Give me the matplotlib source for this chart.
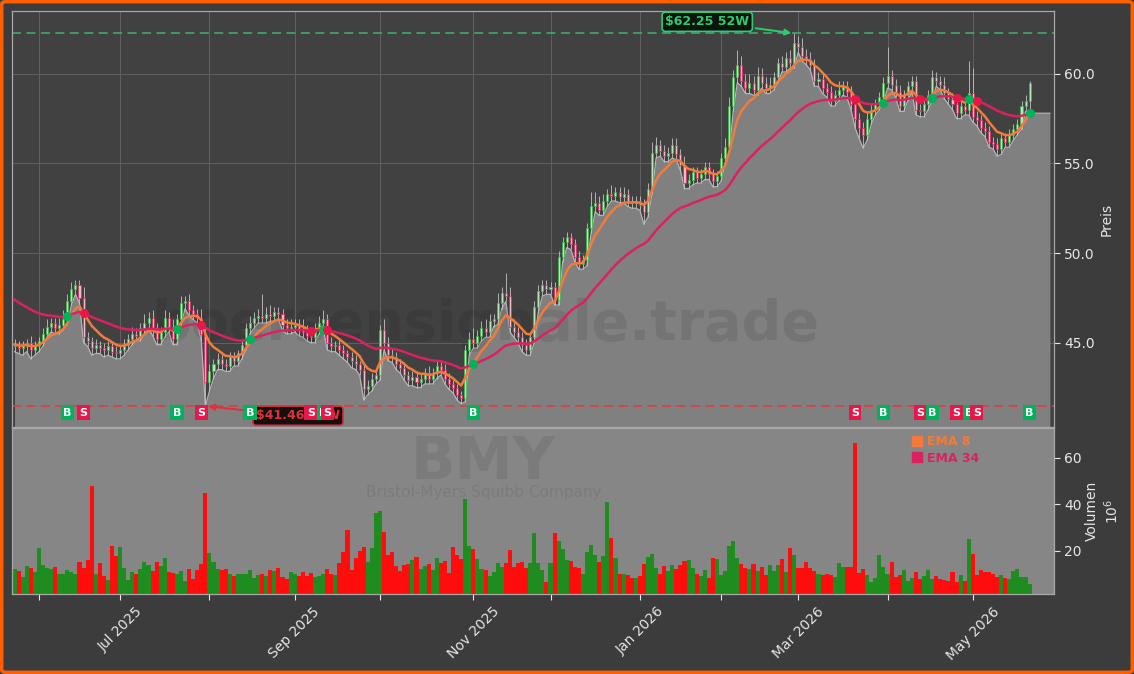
import numpy as np
import pandas as pd
import matplotlib
matplotlib.use('Agg')
import matplotlib.pyplot as plt
from matplotlib.lines import Line2D
from matplotlib.patches import FancyBboxPatch

# trading days (US market holidays removed)
holidays = ['2025-05-26', '2025-06-19', '2025-07-04', '2025-09-01', '2025-11-27',
            '2025-12-25', '2026-01-01', '2026-01-19', '2026-02-16', '2026-04-03']
dates = pd.bdate_range('2025-05-22', '2026-05-21')
dates = dates[~dates.isin(pd.to_datetime(holidays))]

# daily closes
closes = [
    44.9, 44.7, 44.8, 45.0, 44.6, 44.8, 45.1,
    45.5, 45.9, 46.1, 45.8, 46.0, 46.3,
    47.3, 48.0, 48.2, 47.5,
    45.3, 45.1, 44.7,
    44.9, 44.7, 44.6, 44.8, 44.5, 44.4, 44.6,
    44.9, 45.2, 45.5, 45.4, 45.8, 46.1, 46.4,
    45.8, 45.2, 45.6, 46.4, 45.9, 45.2,
    46.3, 47.2, 47.3, 46.8, 46.6, 46.4,
    45.5, 42.8, 43.4,
    43.8, 44.1, 43.8, 43.7, 44.2, 44.0, 44.4,
    44.9, 45.8, 46.1, 46.4, 46.5,
    46.4, 46.6, 46.5, 46.7, 46.6, 46.0,
    45.8, 45.9, 46.0, 45.7, 45.6, 45.4,
    45.3, 45.8, 46.1, 46.3, 45.0,
    44.8, 44.9, 44.6, 44.4, 44.2, 44.0, 43.8, 43.5,
    42.4, 42.6, 43.0, 43.2,
    45.7, 45.0, 44.3, 44.2, 43.8, 43.6,
    43.2, 42.9, 43.1, 42.8, 43.0, 43.3, 43.0,
    43.3, 43.7, 43.5, 43.0, 42.7,
    42.5, 42.1, 41.9,
    44.6, 45.2, 45.0, 45.4, 45.8, 45.6, 46.2, 46.3,
    47.2, 47.8, 47.6, 45.9, 45.6, 45.3, 44.9, 44.6, 45.3,
    47.0, 47.9, 48.2, 48.0, 48.1, 47.4,
    49.8, 50.6, 50.9, 50.5, 49.8, 49.4, 49.6,
    51.4, 52.6, 52.8, 52.4, 52.9, 53.3, 53.2, 53.4, 53.1, 53.3, 52.9, 52.8, 52.9, 52.7, 52.3, 53.6,
    55.6, 56.0, 55.7, 55.4, 55.6, 56.0, 55.5, 54.9, 53.9, 54.1, 54.5, 54.2, 54.4,
    54.8, 54.4, 54.0, 54.3, 55.3, 55.9,
    58.2, 59.8, 60.5, 59.6, 59.2, 59.5, 59.1, 59.9, 59.5, 59.2, 59.4, 59.8, 60.6, 60.4, 60.9,
    60.6, 61.7, 61.5, 61.0, 60.8, 60.5,
    59.6, 59.7, 59.2, 59.0, 58.5, 58.8, 59.1, 59.3, 59.0, 58.3, 57.5, 57.0, 56.6, 57.5, 58.0,
    58.3, 58.7,
    59.5, 59.9, 59.4, 59.0, 58.2, 58.8, 59.3, 59.6, 58.0, 57.9, 58.3, 58.8, 59.8, 59.6, 59.4,
    58.9, 58.6, 58.3, 57.8, 58.2, 58.0, 58.9,
    57.6, 57.4, 57.0, 56.8, 56.2, 56.1, 55.8, 56.4, 56.2, 56.6, 56.9, 57.2, 58.2, 58.5, 59.5,
]
first_open = 44.8

hi_wick = [
    0.3, 0.2, 0.3, 0.2, 0.4, 0.3, 0.2, 0.3, 0.4, 0.3,
    0.3, 0.4, 0.5, 0.4, 0.4, 0.3, 0.3, 0.6, 0.3, 0.2,
    0.3, 0.2, 0.3, 0.3, 0.2, 0.3, 0.2, 0.3, 0.3, 0.4,
    0.3, 0.3, 0.5, 0.3, 0.4, 0.3, 0.3, 0.4, 0.3, 0.4,
    0.3, 0.4, 0.3, 0.4, 0.3, 0.3, 0.5, 0.4, 0.4, 0.3,
    0.3, 0.4, 0.3, 0.3, 0.3, 0.2, 0.3, 0.3, 0.4, 0.3,
    0.4, 1.2, 0.4, 0.5, 0.3, 0.3, 0.3, 0.3, 0.4, 0.3,
    0.3, 0.6, 0.4, 0.3, 0.3, 0.4, 0.5, 0.3, 0.3, 0.2,
    0.3, 0.3, 0.2, 0.3, 0.3, 0.2, 0.3, 0.3, 0.3, 0.3,
    0.3, 0.6, 0.3, 0.4, 0.3, 0.3, 0.3, 0.2, 0.3, 0.3,
    0.3, 0.3, 0.4, 0.3, 0.3, 0.3, 0.3, 0.3, 0.2, 0.2,
    0.2, 0.3, 0.4, 0.6, 0.3, 0.4, 0.5, 0.4, 0.3, 0.6,
    0.3, 1.1, 0.5, 0.4, 0.3, 0.3, 0.3, 0.3, 0.3, 0.3,
    0.3, 0.3, 0.3, 0.3, 0.3, 0.3, 0.3, 0.2, 0.3, 0.3,
    0.3, 0.3, 0.8, 0.6, 0.4, 0.4, 0.3, 0.5, 0.3, 0.3,
    0.4, 0.3, 0.3, 0.3, 0.3, 0.3, 0.3, 0.6, 0.5, 0.3,
    0.3, 0.3, 0.4, 0.4, 0.3, 0.5, 0.3, 0.3, 0.3, 0.3,
    0.3, 0.3, 0.3, 0.3, 0.3, 0.5, 0.5, 0.4, 0.8, 0.5,
    0.4, 0.5, 0.4, 0.5, 0.4, 0.3, 0.4, 0.3, 0.3, 0.4,
    0.3, 0.4, 0.55, 0.4, 0.5, 0.4, 0.4, 0.3, 0.4, 0.3,
    0.3, 0.3, 0.3, 0.5, 0.3, 0.3, 0.3, 0.4, 0.3, 0.3,
    0.3, 0.3, 0.3, 0.3, 0.3, 1.6, 0.3, 0.3, 0.4, 0.3,
    0.3, 0.3, 0.3, 0.3, 0.3, 0.3, 0.4, 0.3, 0.3, 0.4,
    0.3, 0.3, 0.3, 0.3, 0.3, 1.8, 1.4, 0.3, 0.3, 0.3,
    0.3, 0.3, 0.3, 0.3, 0.3, 0.3, 0.3, 0.3, 0.3, 0.3,
    0.1,
]
lo_wick = [
    0.3, 0.3, 0.4, 0.3, 0.5, 0.3, 0.3, 0.3, 0.2, 0.3,
    0.3, 0.3, 0.3, 0.3, 0.2, 0.3, 0.3, 0.3, 0.3, 0.4,
    0.3, 0.3, 0.4, 0.3, 0.3, 0.3, 0.3, 0.3, 0.3, 0.3,
    0.3, 0.3, 0.3, 0.3, 0.4, 0.3, 0.3, 0.3, 0.3, 0.3,
    0.3, 0.3, 0.3, 0.3, 0.3, 0.3, 0.4, 1.34, 0.5, 0.4,
    0.3, 0.3, 0.3, 0.3, 0.3, 0.3, 0.3, 0.3, 0.3, 0.3,
    0.3, 0.3, 0.3, 0.3, 0.3, 0.3, 0.3, 0.3, 0.3, 0.3,
    0.3, 0.3, 0.3, 0.3, 0.3, 0.3, 0.3, 0.4, 0.3, 0.3,
    0.3, 0.3, 0.3, 0.4, 0.3, 0.3, 0.6, 0.3, 0.3, 0.3,
    0.3, 0.4, 0.3, 0.3, 0.3, 0.3, 0.3, 0.3, 0.3, 0.3,
    0.3, 0.3, 0.3, 0.3, 0.3, 0.3, 0.3, 0.3, 0.3, 0.3,
    0.3, 0.2, 0.3, 0.3, 0.3, 0.3, 0.3, 0.3, 0.3, 0.3,
    0.3, 0.3, 0.3, 0.3, 0.3, 0.4, 0.3, 0.3, 0.3, 0.3,
    0.3, 0.3, 0.3, 0.3, 0.3, 0.3, 0.3, 0.3, 0.3, 0.3,
    0.3, 0.3, 0.3, 0.3, 0.3, 0.3, 0.3, 0.3, 0.3, 0.3,
    0.3, 0.3, 0.3, 0.3, 0.3, 0.7, 0.3, 0.3, 0.3, 0.3,
    0.3, 0.3, 0.3, 0.3, 0.3, 0.3, 0.3, 0.3, 0.3, 0.3,
    0.3, 0.3, 0.3, 0.3, 0.3, 0.3, 0.3, 0.3, 0.3, 0.3,
    0.3, 0.3, 0.3, 0.3, 0.3, 0.3, 0.3, 0.3, 0.3, 0.3,
    0.3, 0.3, 0.3, 0.3, 0.3, 0.3, 0.3, 0.3, 0.3, 0.3,
    0.3, 0.3, 0.3, 0.3, 0.3, 0.3, 0.3, 0.5, 0.6, 0.75,
    0.3, 0.3, 0.3, 0.3, 0.3, 0.3, 0.3, 0.3, 0.3, 0.3,
    0.3, 0.3, 0.3, 0.3, 0.3, 0.3, 0.3, 0.3, 0.3, 0.3,
    0.3, 0.3, 0.3, 0.3, 0.3, 0.3, 0.3, 0.3, 0.3, 0.3,
    0.3, 0.3, 0.4, 0.3, 0.3, 0.3, 0.3, 0.3, 0.3, 0.3,
    0.7,
]

# volume in millions
volume = [
    12.1, 11.3, 8.8, 13.5, 12.7, 11.0, 21.3, 13.8, 12.7, 12.0,
    13.1, 9.8, 10.2, 11.7, 11.0, 10.2, 15.3, 12.7, 16.0, 47.8,
    10.0, 14.8, 9.2, 7.5, 22.1, 17.8, 21.7, 12.7, 7.4, 10.8,
    10.0, 12.1, 15.1, 14.0, 11.4, 15.3, 13.4, 16.8, 10.8, 10.5,
    10.0, 11.3, 7.1, 12.3, 7.8, 11.7, 14.3, 44.9, 18.9, 15.1,
    12.1, 11.7, 12.0, 10.2, 9.2, 10.2, 10.2, 9.8, 11.7, 8.4,
    9.5, 10.0, 9.1, 11.7, 11.3, 12.5, 8.8, 8.0, 10.7, 10.0,
    9.0, 10.8, 9.1, 10.4, 8.7, 9.1, 10.0, 12.3, 10.0, 9.4,
    14.8, 19.6, 28.9, 11.7, 17.0, 19.9, 21.7, 15.3, 21.3, 36.3,
    37.1, 28.0, 18.1, 19.4, 13.4, 11.3, 14.0, 14.3, 16.0, 17.3,
    12.1, 13.4, 14.3, 11.7, 16.8, 14.8, 15.5, 10.5, 21.7, 18.3,
    16.4, 42.2, 22.0, 20.7, 16.4, 12.1, 11.7, 9.1, 10.7, 14.6,
    13.1, 14.8, 20.3, 13.1, 14.8, 15.1, 12.4, 14.6, 27.6, 14.8,
    11.7, 6.4, 14.6, 27.5,
    24.0, 20.7, 16.0, 15.6, 13.1, 12.7, 10.0, 19.3, 22.4, 18.1,
    15.3, 17.7, 41.1, 25.3, 16.8, 10.2, 10.0, 9.5, 8.1, 8.1,
    9.1, 14.3, 17.4, 18.4, 12.4, 10.0, 13.4, 11.3, 13.8, 12.0,
    14.0, 15.4, 16.0, 12.4, 10.0, 9.1, 11.7, 8.1, 16.8, 16.4,
    9.5, 11.3, 22.0, 24.2, 17.1, 14.3, 12.4, 12.0, 14.3, 11.3,
    13.1, 9.5, 13.8, 11.3, 13.8, 16.6, 11.0, 21.1, 18.1, 12.7,
    12.7, 15.1, 12.4, 11.3, 10.0, 9.5, 10.2, 9.5, 8.8, 14.6,
    13.1, 13.1, 13.1, 66.4, 10.5, 12.1, 9.7, 6.7, 8.4, 18.1,
    13.1, 10.2, 15.0, 8.5, 9.4, 11.7, 7.1, 8.2, 10.7, 7.9,
    9.2, 11.7, 7.9, 9.2, 7.8, 7.4, 7.1, 10.8, 6.5, 9.5,
    7.0, 25.0, 18.6, 9.5, 11.7, 10.8, 10.8, 10.2, 8.8, 9.5,
    8.4, 7.9, 11.3, 12.1, 8.8, 8.8, 5.7,
]

ema8_start = 44.9
ema34_start = 47.4
buy_idx = [13, 40, 58, 76, 113, 214, 226, 235, 250]
sell_idx = [17, 46, 73, 77, 207, 223, 232, 237]
high_52w, high_52w_idx = 62.25, 192
low_52w, low_52w_idx = 41.46, 47

ticker = 'BMY'
company = 'Bristol-Myers Squibb Company'
watermark = 'boersensignale.trade'

# colours
bg = '#3c3c3c'
ax_bg = '#414141'
fill_c = '#808080'
ema8_c = '#f47a3a'
ema34_c = '#dc2160'
buy_c = '#00b35a'
sell_c = '#e8174a'
txt_c = '#e6e6e6'

n = len(closes)
x = np.arange(n)
close = np.array(closes)
opens = np.concatenate([[first_open], close[:-1]])
high = np.maximum(opens, close) + np.array(hi_wick)
low = np.minimum(opens, close) - np.array(lo_wick)
up = close >= opens


def ema(values, start, span):
    a = 2.0 / (span + 1)
    out = [start]
    for v in values[1:]:
        out.append(out[-1] + a * (v - out[-1]))
    return np.array(out)


ema8 = ema(close, ema8_start, 8)
ema34 = ema(close, ema34_start, 34)

fig = plt.figure(figsize=(11.34, 6.74), dpi=100, facecolor=bg)
ax1 = fig.add_axes([0.01102, 0.36647, 0.91843, 0.61721], facecolor=ax_bg)
ax2 = fig.add_axes([0.01102, 0.11869, 0.91843, 0.24629], facecolor='#868686', sharex=ax1)

ymin, ymax = 40.3, 63.5

# price panel
ax1.set_axisbelow(True)
ax1.grid(True, color='#606060', lw=0.7)
x_fill = np.append(x, n + 4)
low_fill = np.append(low, low[-1])
ax1.fill_between(x_fill, low_fill, ymin, color=fill_c, zorder=1, lw=0)
ax1.plot(x_fill, low_fill, color='#b4b4b4', lw=0.9, zorder=1.5)

ax1.text(0.454, 0.245, watermark, transform=ax1.transAxes, fontsize=40, fontweight='bold',
         color='black', alpha=0.09, ha='center', va='center', zorder=1.8)

ax1.vlines(x, low, high, color='#c4c4c4', lw=0.6, zorder=2)
body = np.maximum(np.abs(close - opens), 0.06)
ax1.bar(x[up], body[up], bottom=np.minimum(opens, close)[up], width=0.5,
        color='#b4e8b4', edgecolor='#3cb44b', lw=0.5, zorder=3)
ax1.bar(x[~up], body[~up], bottom=np.minimum(opens, close)[~up], width=0.5,
        color='#f7b8c6', edgecolor='#e0245e', lw=0.5, zorder=3)

ax1.plot(x, ema8, color=ema8_c, lw=1.8, zorder=4)
ax1.plot(x, ema34, color=ema34_c, lw=1.8, zorder=4)
ax1.plot(buy_idx, ema34[buy_idx], 'o', color=buy_c, ms=5.5, zorder=5)
ax1.plot(sell_idx, ema34[sell_idx], 'o', color=sell_c, ms=5.5, zorder=5)

ax1.axhline(high_52w, color='#3cb371', lw=1.3, ls=(0, (5, 3)), alpha=0.85, zorder=2)
ax1.axhline(low_52w, color='#e03c3c', lw=1.3, ls=(0, (5, 3)), alpha=0.9, zorder=2)

ax1.annotate(r'\$62.25 52W', xy=(high_52w_idx, high_52w), xytext=(170.6, 62.9),
             color='#2ecc71', fontsize=9, fontweight='bold', ha='center', va='center',
             bbox=dict(boxstyle='round,pad=0.25', fc='#0c140e', ec='#2ecc71', lw=1.2),
             arrowprops=dict(arrowstyle='-|>', color='#2ecc71', lw=1.4), zorder=6)
ax1.annotate(r'\$41.46 52W', xy=(low_52w_idx, low_52w), xytext=(69.8, 40.93),
             color='#e0303a', fontsize=9, fontweight='bold', ha='center', va='center',
             bbox=dict(boxstyle='round,pad=0.25', fc='#151010', ec='#e0303a', lw=1.2),
             arrowprops=dict(arrowstyle='-|>', color='#e0303a', lw=1.4), zorder=6)

lab_y = 41.1
for i in buy_idx:
    ax1.text(i, lab_y, 'B', color='white', fontsize=8, fontweight='bold', ha='center', va='center',
             bbox=dict(boxstyle='square,pad=0.22', fc=buy_c, ec='none'), zorder=7)
for i in sell_idx:
    ax1.text(i, lab_y, 'S', color='white', fontsize=8, fontweight='bold', ha='center', va='center',
             bbox=dict(boxstyle='square,pad=0.22', fc=sell_c, ec='none'), zorder=7)

ax1.set_ylim(ymin, ymax)
ax1.set_yticks([45, 50, 55, 60])
ax1.yaxis.set_major_formatter(matplotlib.ticker.FormatStrFormatter('%.1f'))
ax1.yaxis.tick_right()
ax1.yaxis.set_label_position('right')
ax1.set_ylabel('Preis', color=txt_c, fontsize=10, labelpad=3)
ax1.tick_params(axis='y', colors=txt_c, labelsize=10, length=4)
ax1.tick_params(axis='x', bottom=False, labelbottom=False)

# volume panel
vol = np.array(volume)
ax2.bar(x[up], vol[up], width=1.0, color='#1e8c1e', lw=0, zorder=2)
ax2.bar(x[~up], vol[~up], width=1.0, color='#ff0d0d', lw=0, zorder=2)
ax2.text(0.452, 0.795, ticker, transform=ax2.transAxes, fontsize=42, fontweight='bold',
         color='black', alpha=0.08, ha='center', va='center', zorder=1)
ax2.text(0.452, 0.614, company, transform=ax2.transAxes, fontsize=11,
         color='black', alpha=0.08, ha='center', va='center', zorder=1)
ax2.set_ylim(1.4, 72.8)
ax2.set_yticks([20, 40, 60])
ax2.yaxis.tick_right()
ax2.yaxis.set_label_position('right')
ax2.set_ylabel('Volumen\n$10^6$', color=txt_c, fontsize=10, labelpad=2)
ax2.tick_params(axis='y', colors=txt_c, labelsize=10, length=4)

month_pos = [i for i in range(1, n) if dates[i].month != dates[i - 1].month]
month_lab = [dates[i].strftime('%b %Y') if dates[i].month % 2 == 1 else '' for i in month_pos]
ax2.set_xticks(month_pos)
ax2.set_xticklabels(month_lab, rotation=45, ha='center')
ax2.tick_params(axis='x', colors=txt_c, labelsize=10, length=4)
ax2.set_xlim(-0.5, 256)

for ax in (ax1, ax2):
    for s in ax.spines.values():
        s.set_color('#a8a8a8')
        s.set_linewidth(0.9)

handles = [Line2D([], [], marker='s', ls='None', color=ema8_c, ms=7),
           Line2D([], [], marker='s', ls='None', color=ema34_c, ms=7)]
fig.legend(handles, ['EMA 8', 'EMA 34'], loc='upper left', bbox_to_anchor=(0.8, 0.362),
           frameon=False, prop={'weight': 'bold', 'size': 9}, labelcolor=[ema8_c, ema34_c],
           handlelength=0.8, handletextpad=0.4, labelspacing=0.3, borderaxespad=0)

fig.patches.append(FancyBboxPatch((0.0015, 0.0025), 0.997, 0.995, boxstyle='round,pad=0,rounding_size=0.004',
                                  transform=fig.transFigure, fc='none', ec='#ff5f00', lw=2.5))

fig.savefig('out.png', dpi=100, facecolor=bg)
